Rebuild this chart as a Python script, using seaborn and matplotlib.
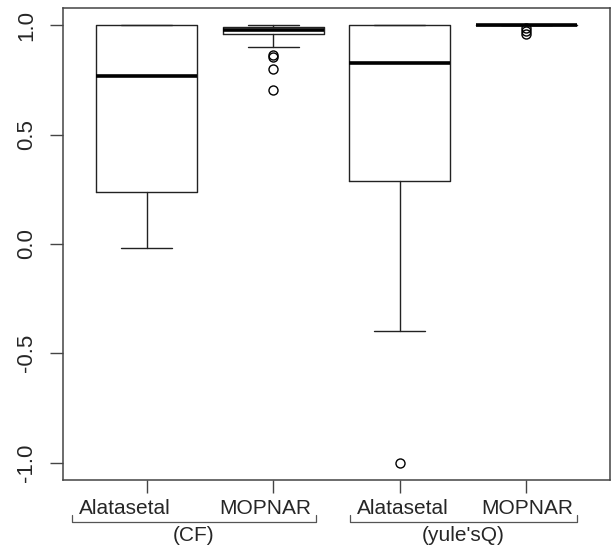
import matplotlib
matplotlib.use("Agg")
import matplotlib.pyplot as plt
import seaborn as sns

# ---- data ----
method_labels = ["Alatasetal", "MOPNAR", "Alatasetal", "MOPNAR"]
metric_labels = ["(CF)", "(yule'sQ)"]
whislo = [-0.02, 0.90, -0.40, 1.0]
q1 = [0.24, 0.96, 0.29, 1.0]
med = [0.77, 0.98, 0.83, 1.0]
q3 = [1.0, 0.995, 1.0, 1.0]
whishi = [1.0, 1.0, 1.0, 1.0]
fliers = [[], [0.867, 0.855, 0.80, 0.707], [-1.0], [0.99, 0.975, 0.96]]
ytick_values = [-1.0, -0.5, 0.0, 0.5, 1.0]
ytick_labels = ["-1.0", "-0.5", "0.0", "0.5", "1.0"]

sns.set_style("white")
plt.rcParams["font.family"] = ["Liberation Sans", "DejaVu Sans"]

W, H = 613, 548
fig = plt.figure(figsize=(W / 100, H / 100), dpi=100)
ax = fig.add_axes([63 / W, 1 - 480 / H, (610 - 63) / W, (480 - 8) / H])

stats = []
for i in range(len(method_labels)):
    stats.append(dict(whislo=whislo[i], q1=q1[i], med=med[i], q3=q3[i],
                      whishi=whishi[i], fliers=fliers[i], label=method_labels[i]))

positions = [1, 2, 3, 4]
line_c = "#222222"
ax.bxp(stats, positions=positions, widths=0.8, capwidths=0.4,
       boxprops=dict(color=line_c, linewidth=1.0),
       whiskerprops=dict(color=line_c, linewidth=1.0, linestyle="-"),
       capprops=dict(color=line_c, linewidth=1.0),
       medianprops=dict(color="black", linewidth=2.6, solid_capstyle="butt"),
       flierprops=dict(marker="o", markerfacecolor="none", markeredgecolor="black",
                       markersize=6.5, markeredgewidth=1.0),
       showfliers=True, manage_ticks=False)

ax.set_xlim(0.34, 4.66)
ax.set_ylim(-1.08, 1.08)

for s in ax.spines.values():
    s.set_visible(True)
    s.set_color("#444444")
    s.set_linewidth(1.1)

ax.set_yticks(ytick_values)
ax.set_yticklabels(ytick_labels, rotation=90, va="center", fontsize=16)
ax.set_xticks(positions)
ax.tick_params(axis="both", direction="out", length=9.4, width=1.0,
               color="#444444", left=True, bottom=True)
ax.tick_params(axis="y", pad=9)
ax.tick_params(axis="x", labelbottom=False)

# manual category labels with brackets (as in the reference)
tr = ax.get_xaxis_transform()
label_x = [0.83, 1.94, 3.02, 4.005]
for x, t in zip(label_x, method_labels):
    ax.text(x, -0.060, t, transform=tr, ha="center", va="center",
            fontsize=15, clip_on=False)

brackets = [(0.411, 2.338), (2.607, 4.40)]
for (a, b), t in zip(brackets, metric_labels):
    ax.plot([a, a, b, b], [-0.075, -0.089, -0.089, -0.075], transform=tr,
            color="#555555", linewidth=0.9, clip_on=False)
    ax.text((a + b) / 2, -0.117, t, transform=tr, ha="center", va="center",
            fontsize=15, clip_on=False)

fig.savefig("out.png", dpi=100)
